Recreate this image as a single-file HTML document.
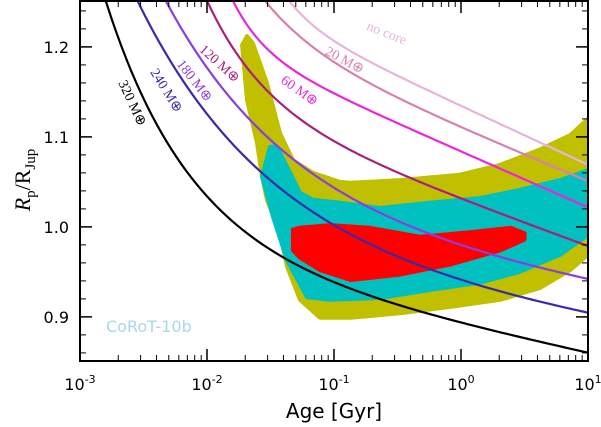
<!DOCTYPE html>
<html><head><meta charset="utf-8"><style>
body{margin:0;background:#fff}
svg{display:block}
</style></head><body>
<svg id="chart" width="601" height="427" xmlns="http://www.w3.org/2000/svg" style="font-family:'DejaVu Sans','Liberation Sans',sans-serif">
<g id="regions"></g>
<g id="curves"></g>
<g id="axes"></g>
<text x="106" y="332" fill="#a8d8e8" font-size="16">CoRoT-10b</text>
<text x="334" y="418" text-anchor="middle" font-size="20">Age [Gyr]</text>
<text transform="translate(30,180) rotate(-90)" text-anchor="middle" font-size="22" style="font-family:'Liberation Serif',serif"><tspan font-style="italic">R</tspan><tspan font-size="15" dy="5">p</tspan><tspan dy="-5">/R</tspan><tspan font-size="15" dy="5">Jup</tspan></text>
</svg>
<script>
// axis domain
const xDomain=[-3,1], yDomain=[0.851,1.251];
const xTickExps=[-3,-2,-1,0,1];
const yTicks=[0.9,1.0,1.1,1.2];
const yTickLabels=["0.9","1.0","1.1","1.2"];
// curves: log10 age and radius
const curveNames=["320","240","180","120","60","20","nocore"];
const curveColors=["#000000","#3a2aa8","#8a3ee0","#a8207e","#e828d8","#d880b0","#e8b4dc"];
const curveLogAge=[
[-2.80,-2.606,-2.346,-2.079,-1.685,-1.291,-1.031,-0.244,0.283,0.803,1.0],
[-2.56,-2.346,-2.079,-1.819,-1.425,-1.031,-0.244,0.283,0.803,1.0],
[-2.35,-2.079,-1.819,-1.559,-1.291,-1.031,-0.244,0.283,0.803,1.0],
[-2.0,-1.685,-1.291,-1.031,-0.244,0.283,0.803,1.0],
[-1.795,-1.425,-1.031,-0.244,0.283,0.803,1.0],
[-1.54,-1.27,-1.031,-0.244,0.283,0.803,1.0],
[-1.35,-1.031,-0.244,0.283,0.803,1.0]];
const curveR=[
[1.251,1.178,1.104,1.044,0.993,0.956,0.941,0.904,0.886,0.867,0.858],
[1.251,1.204,1.141,1.093,1.044,0.999,0.956,0.933,0.911,0.902],
[1.251,1.204,1.152,1.097,1.063,1.043,1.0,0.971,0.949,0.938],
[1.251,1.178,1.124,1.093,1.049,1.016,0.989,0.978],
[1.251,1.186,1.147,1.104,1.066,1.033,1.021],
[1.251,1.211,1.186,1.13,1.089,1.063,1.052],
[1.251,1.208,1.156,1.11,1.082,1.071]];
// regions
const yellowLogAge=[-1.685,-1.724,-1.685,-1.606,-1.567,-1.528,-1.425,-1.37,-1.268,-1.11,-0.87,-0.48,-0.09,0.31,0.62,0.86,1.0,1.0,0.86,0.62,0.31,-0.01,-0.48,-0.87,-0.953,-1.165,-1.323,-1.425,-1.528,-1.638];
const yellowR=[1.212,1.202,1.141,1.093,1.056,1.03,0.993,0.956,0.919,0.899,0.899,0.904,0.911,0.919,0.932,0.952,0.969,1.12,1.102,1.086,1.069,1.058,1.052,1.049,1.05,1.06,1.074,1.104,1.16,1.204];
const cyanLogAge=[-1.504,-1.567,-1.48,-1.37,-1.213,-1.03,-0.64,-0.24,0.15,0.46,0.78,1.0,1.0,0.78,0.46,0.15,-0.24,-0.64,-0.953,-1.165,-1.268,-1.37,-1.449];
const cyanR=[1.089,1.056,1.011,0.963,0.922,0.919,0.921,0.93,0.938,0.95,0.969,0.991,1.063,1.052,1.041,1.032,1.027,1.021,1.027,1.03,1.038,1.067,1.089];
const redLogAge=[-1.323,-1.323,-1.27,-1.11,-0.87,-0.48,-0.09,0.31,0.50,0.50,0.39,0.07,-0.32,-0.72,-1.03,-1.27];
const redR=[0.997,0.974,0.966,0.952,0.941,0.947,0.958,0.974,0.986,0.993,0.999,0.994,0.989,0.999,1.002,0.999];
const labelText=["320 M⊕","240 M⊕","180 M⊕","120 M⊕","60 M⊕","20 M⊕","no core"];
const labelLogAge=[-2.583,-2.315,-2.094,-1.898,-1.268,-0.913,-0.583];
const labelR=[1.138,1.152,1.163,1.182,1.152,1.186,1.216];
const labelRot=[65,58,52,42,35,28,22];

const L=80,R=588,T=1,B=361;
const sx=v=>L+(v-xDomain[0])/(xDomain[1]-xDomain[0])*(R-L);
const sy=v=>B-(v-yDomain[0])/(yDomain[1]-yDomain[0])*(B-T);
const NS="http://www.w3.org/2000/svg";
function mk(tag,parent){const e=document.createElementNS(NS,tag);parent.appendChild(e);return e;}
const clip=mk('clipPath',document.getElementById('chart'));clip.id='pc';
const cr=mk('rect',clip);cr.setAttribute('x',L);cr.setAttribute('y',T);cr.setAttribute('width',R-L);cr.setAttribute('height',B-T);
const reg=document.getElementById('regions');reg.setAttribute('clip-path','url(#pc)');
function poly(xs,ys,col,name){const p=mk('polygon',reg);
p.setAttribute('points',xs.map((x,i)=>sx(x)+','+sy(ys[i])).join(' '));
p.setAttribute('fill',col);p.setAttribute('stroke',col);p.setAttribute('stroke-width','4');p.setAttribute('stroke-linejoin','round');

}
poly(yellowLogAge,yellowR,'#c0c000','region-2sigma');
poly(cyanLogAge,cyanR,'#00c0c0','region-1sigma');
poly(redLogAge,redR,'#ff0000','region-best');
const cg=document.getElementById('curves');cg.setAttribute('clip-path','url(#pc)');
function solve(A,b){const n=b.length;A=A.map(r=>r.slice());b=b.slice();
for(let c=0;c<n;c++){let p=c;for(let r=c+1;r<n;r++)if(Math.abs(A[r][c])>Math.abs(A[p][c]))p=r;
[A[c],A[p]]=[A[p],A[c]];[b[c],b[p]]=[b[p],b[c]];
for(let r=0;r<n;r++)if(r!==c){const f=A[r][c]/A[c][c];for(let j=c;j<n;j++)A[r][j]-=f*A[c][j];b[r]-=f*b[c];}}
return b.map((v,i)=>v/A[i][i]);}
// smooth the read points with least squares R = a + b*exp(-c*x) + d*x
function fitCurve(xs,ys){let best=null;
for(let c=0.1;c<=4;c+=0.02){const basis=xs.map(x=>[1,Math.exp(-c*x),x]);
const A=[[0,0,0],[0,0,0],[0,0,0]],b=[0,0,0];
basis.forEach((f,k)=>{for(let i=0;i<3;i++){b[i]+=f[i]*ys[k];for(let j=0;j<3;j++)A[i][j]+=f[i]*f[j];}});
const co=solve(A,b);let err=0;
basis.forEach((f,k)=>{const r=co[0]*f[0]+co[1]*f[1]+co[2]*f[2]-ys[k];err+=r*r;});
if(!best||err<best.err)best={co,c,err};}
return x=>best.co[0]+best.co[1]*Math.exp(-best.c*x)+best.co[2]*x;}
curveNames.forEach((n,k)=>{const xs=curveLogAge[k],ys=curveR[k];const f=fitCurve(xs,ys);
const x0=xs[0]-0.15,x1=xs[xs.length-1];let d='';
for(let s=0;s<=100;s++){const x=x0+(x1-x0)*s/100;
d+=(s?' L':'M')+sx(x).toFixed(2)+','+sy(f(x)).toFixed(2);}
const p=mk('path',cg);
p.setAttribute('d',d);
p.setAttribute('fill','none');p.setAttribute('stroke',curveColors[k]);p.setAttribute('stroke-width','2.2');p.setAttribute('stroke-linejoin','round');


const t=mk('text',document.getElementById('chart'));
const x=sx(labelLogAge[k]),y=sy(labelR[k]);
t.setAttribute('x',x);t.setAttribute('y',y+5);t.setAttribute('text-anchor','middle');
t.setAttribute('transform','rotate('+labelRot[k]+' '+x+' '+y+')');
t.setAttribute('font-size','14');t.setAttribute('style',"font-family:'Liberation Serif',serif");t.setAttribute('fill',curveColors[k]);
t.textContent=labelText[k];

});
const ax=document.getElementById('axes');
function line(x1,y1,x2,y2,w){const l=mk('line',ax);l.setAttribute('x1',x1);l.setAttribute('y1',y1);l.setAttribute('x2',x2);l.setAttribute('y2',y2);l.setAttribute('stroke','#000');l.setAttribute('stroke-width',w);}
xTickExps.forEach((e,i)=>{const x=sx(e);line(x,B,x,B-12,1.5);line(x,T,x,T+12,1.5);
if(i<xTickExps.length-1)for(let m=2;m<10;m++){const xm=sx(e+Math.log10(m));line(xm,B,xm,B-6,1);line(xm,T,xm,T+6,1);}
const t=mk('text',ax);t.setAttribute('x',x);t.setAttribute('y',390);t.setAttribute('text-anchor','middle');t.setAttribute('font-size','16');
t.innerHTML='10<tspan dy="-7" font-size="11">'+e+'</tspan>';

});
for(let v=0.86;v<1.25;v+=0.02){const y=sy(v);line(L,y,L+6,y,1);line(R,y,R-6,y,1);}
yTicks.forEach((v,i)=>{const y=sy(v);line(L,y,L+12,y,1.5);line(R,y,R-12,y,1.5);
const t=mk('text',ax);t.setAttribute('x',69);t.setAttribute('y',y+6);t.setAttribute('text-anchor','end');t.setAttribute('font-size','16');t.textContent=yTickLabels[i];

});
const fr=mk('rect',ax);fr.setAttribute('x',L);fr.setAttribute('y',T);fr.setAttribute('width',R-L);fr.setAttribute('height',B-T);fr.setAttribute('fill','none');fr.setAttribute('stroke','#000');fr.setAttribute('stroke-width','2');


</script>
</body></html>
